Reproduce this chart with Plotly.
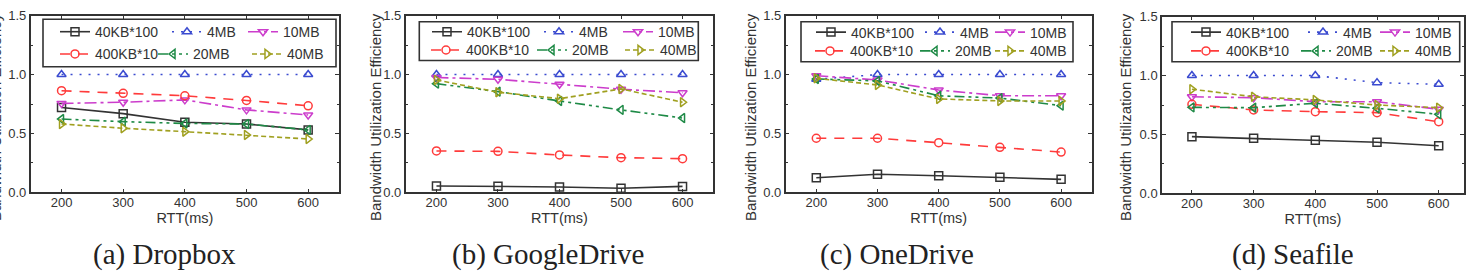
import plotly.graph_objects as go

# ---------------- data ----------------
RTT = [200, 300, 400, 500, 600]
X_TICKS = [200, 300, 400, 500, 600]
Y_TICKS = [0.0, 0.5, 1.0, 1.5]
Y_TICK_TEXT = ["0.0", "0.5", "1.0", "1.5"]
SERIES = ["40KB*100", "4MB", "10MB", "400KB*10", "20MB", "40MB"]
CAPTIONS = ["(a) Dropbox", "(b) GoogleDrive", "(c) OneDrive", "(d) Seafile"]
X_TITLE = "RTT(ms)"
Y_TITLE = "Bandwidth Utilization Efficiency"

# (a) Dropbox
DROPBOX_40KBx100 = [0.72, 0.668, 0.595, 0.58, 0.53]
DROPBOX_4MB = [1.0, 1.0, 1.0, 1.0, 1.0]
DROPBOX_10MB = [0.755, 0.765, 0.785, 0.70, 0.657]
DROPBOX_400KBx10 = [0.863, 0.841, 0.82, 0.78, 0.735]
DROPBOX_20MB = [0.622, 0.60, 0.585, 0.58, 0.53]
DROPBOX_40MB = [0.58, 0.544, 0.515, 0.487, 0.453]

# (b) GoogleDrive
GDRIVE_40KBx100 = [0.054, 0.052, 0.045, 0.034, 0.05]
GDRIVE_4MB = [1.0, 1.0, 1.0, 1.0, 1.0]
GDRIVE_10MB = [0.975, 0.96, 0.918, 0.875, 0.846]
GDRIVE_400KBx10 = [0.351, 0.348, 0.317, 0.294, 0.286]
GDRIVE_20MB = [0.923, 0.855, 0.776, 0.70, 0.631]
GDRIVE_40MB = [0.954, 0.85, 0.795, 0.878, 0.765]

# (c) OneDrive
ONEDRIVE_40KBx100 = [0.124, 0.153, 0.141, 0.127, 0.11]
ONEDRIVE_4MB = [0.96, 1.0, 1.0, 1.0, 1.0]
ONEDRIVE_10MB = [0.99, 0.954, 0.869, 0.82, 0.82]
ONEDRIVE_400KBx10 = [0.459, 0.459, 0.421, 0.382, 0.342]
ONEDRIVE_20MB = [0.963, 0.946, 0.82, 0.80, 0.736]
ONEDRIVE_40MB = [0.968, 0.912, 0.793, 0.776, 0.776]

# (d) Seafile
SEAFILE_40KBx100 = [0.481, 0.467, 0.45, 0.433, 0.404]
SEAFILE_4MB = [1.0, 1.0, 1.0, 0.94, 0.926]
SEAFILE_10MB = [0.82, 0.812, 0.778, 0.778, 0.714]
SEAFILE_400KBx10 = [0.756, 0.708, 0.693, 0.685, 0.608]
SEAFILE_20MB = [0.73, 0.727, 0.765, 0.722, 0.671]
SEAFILE_40MB = [0.884, 0.82, 0.793, 0.75, 0.727]

PANEL_DATA = [
    [DROPBOX_40KBx100, DROPBOX_4MB, DROPBOX_10MB, DROPBOX_400KBx10, DROPBOX_20MB, DROPBOX_40MB],
    [GDRIVE_40KBx100, GDRIVE_4MB, GDRIVE_10MB, GDRIVE_400KBx10, GDRIVE_20MB, GDRIVE_40MB],
    [ONEDRIVE_40KBx100, ONEDRIVE_4MB, ONEDRIVE_10MB, ONEDRIVE_400KBx10, ONEDRIVE_20MB, ONEDRIVE_40MB],
    [SEAFILE_40KBx100, SEAFILE_4MB, SEAFILE_10MB, SEAFILE_400KBx10, SEAFILE_20MB, SEAFILE_40MB],
]

# ---------------- styling ----------------
W, H = 1473, 276
STYLE = {
    "40KB*100": dict(color="#333333", dash="solid", symbol="square-open"),
    "4MB": dict(color="#3b4bd0", dash="2px,7px", symbol="triangle-up-open"),
    "10MB": dict(color="#cc3dcc", dash="12px,4px,3px,4px", symbol="triangle-down-open"),
    "400KB*10": dict(color="#ff3b3b", dash="10px,8px", symbol="circle-open"),
    "20MB": dict(color="#1e8a46", dash="10px,4px,3px,4px,3px,4px", symbol="triangle-left-open"),
    "40MB": dict(color="#a0a020", dash="5px,3px", symbol="triangle-right-open"),
}
AX = "#333333"
FONT = "Liberation Sans"

# plot area pixel boxes (left, right, top, bottom) and x ranges
PLOT_BOX = [(30.7, 339, 15.7, 192.3), (405.7, 713.3, 15.7, 192.3),
            (785.7, 1091.7, 15.7, 192.3), (1162, 1464, 16.7, 193.3)]
X_RANGE = [[150, 650], [150, 650], [150, 650], [151.5, 641]]
LEG_BOX = [(43, 19.3, 336, 66.7), (419.3, 21.7, 698.3, 60.5),
           (801, 21.7, 1073, 61.7), (1172, 21.7, 1459.7, 61.7)]
# text start x of each legend column, row 1 and row 2
LEG_COLS = [([95, 207, 283], [95, 193, 287]),
            ([467, 579, 658], [466, 572, 660]),
            ([851, 960, 1030], [850, 955, 1030]),
            ([1226, 1343, 1415], [1226, 1336, 1415])]
CAP_X = [164.5, 548, 897, 1293]
# panel (a)'s y title sits left of the image edge in the original, so it is clipped
YTITLE_X = [-5, 375, 750, 1125]


def px(x):
    return x / W


def py(y):
    return 1 - y / H


fig = go.Figure()
layout = dict(
    width=W, height=H, margin=dict(l=0, r=0, t=0, b=0, autoexpand=False),
    paper_bgcolor="white", plot_bgcolor="white", showlegend=True,
    font=dict(family=FONT, size=13, color=AX),
)
shapes, annotations = [], []

for i in range(4):
    k = i + 1
    sfx = "" if k == 1 else str(k)
    l, r, t, b = PLOT_BOX[i]
    xdom = [px(l), px(r)]
    ydom = [py(b), py(t)]
    common = dict(showline=True, linecolor=AX, linewidth=1.5, showgrid=False,
                  zeroline=False, tickcolor=AX, tickwidth=1.3, automargin=False,
                  mirror="ticks", ticks="inside", ticklen=4)
    layout["xaxis" + sfx] = dict(
        domain=xdom, range=X_RANGE[i], anchor="y" + sfx, tickvals=X_TICKS,
        tickfont=dict(size=13, color=AX), ticklabelstandoff=-3,
        title=dict(text=X_TITLE, font=dict(size=14.5, color=AX), standoff=0),
        **common)
    layout["yaxis" + sfx] = dict(
        domain=ydom, range=[0, 1.5], anchor="x" + sfx, tickvals=Y_TICKS,
        ticktext=Y_TICK_TEXT,
        minor=dict(ticks="inside", ticklen=2.5, tickvals=[0.25, 0.75, 1.25],
                   tickcolor=AX, tickwidth=1),
        tickfont=dict(size=13, color=AX),
        **common)

    # legends: two rows per panel
    lx0, ly0, lx1, ly1 = LEG_BOX[i]
    shapes.append(dict(type="rect", xref="paper", yref="paper",
                       x0=px(lx0), x1=px(lx1), y0=py(ly1), y1=py(ly0),
                       line=dict(color=AX, width=1.6), fillcolor="rgba(0,0,0,0)",
                       layer="above"))
    row_h = (ly1 - ly0)
    row_y = [ly0 + row_h * 0.27, ly0 + row_h * 0.74]
    for rrow in range(2):
        lname = "legend" + ("" if (2 * i + rrow) == 0 else str(2 * i + rrow + 1))
        cols = LEG_COLS[i][rrow]
        layout[lname] = dict(
            x=px(cols[0] - 40), y=py(row_y[rrow]), xanchor="left", yanchor="middle",
            orientation="h", bgcolor="rgba(0,0,0,0)", borderwidth=0,
            font=dict(family=FONT, size=14, color=AX), itemwidth=30,
            tracegroupgap=0, traceorder="normal")

    for j, name in enumerate(SERIES):
        st = STYLE[name]
        rrow = 0 if j < 3 else 1
        col = j % 3
        cols = LEG_COLS[i][rrow]
        lname = "legend" + ("" if (2 * i + rrow) == 0 else str(2 * i + rrow + 1))
        lw = (cols[col + 1] - cols[col] - 45) if col < 2 else None
        tr = go.Scatter(
            x=RTT, y=PANEL_DATA[i][j], name=name, mode="lines+markers",
            xaxis="x" + sfx, yaxis="y" + sfx, legend=lname,
            line=dict(color=st["color"], dash=st["dash"], width=1.6),
            marker=dict(symbol=st["symbol"], size=8, color=st["color"],
                        line=dict(color=st["color"], width=1.5)),
            cliponaxis=False,
        )
        if lw is not None:
            tr.legendwidth = lw
        fig.add_trace(tr)

    annotations.append(dict(
        text=Y_TITLE, x=px(YTITLE_X[i]), y=py(117), xref="paper", yref="paper",
        xanchor="center", yanchor="middle", showarrow=False, textangle=-90,
        font=dict(family=FONT, size=15, color=AX)))

    annotations.append(dict(
        text=CAPTIONS[i], x=px(CAP_X[i]), y=py(254), xref="paper", yref="paper",
        xanchor="center", yanchor="middle", showarrow=False,
        font=dict(family="Liberation Serif", size=29, color="#222222")))

layout["shapes"] = shapes
layout["annotations"] = annotations
fig.update_layout(**layout)
fig.write_html("out.html")
